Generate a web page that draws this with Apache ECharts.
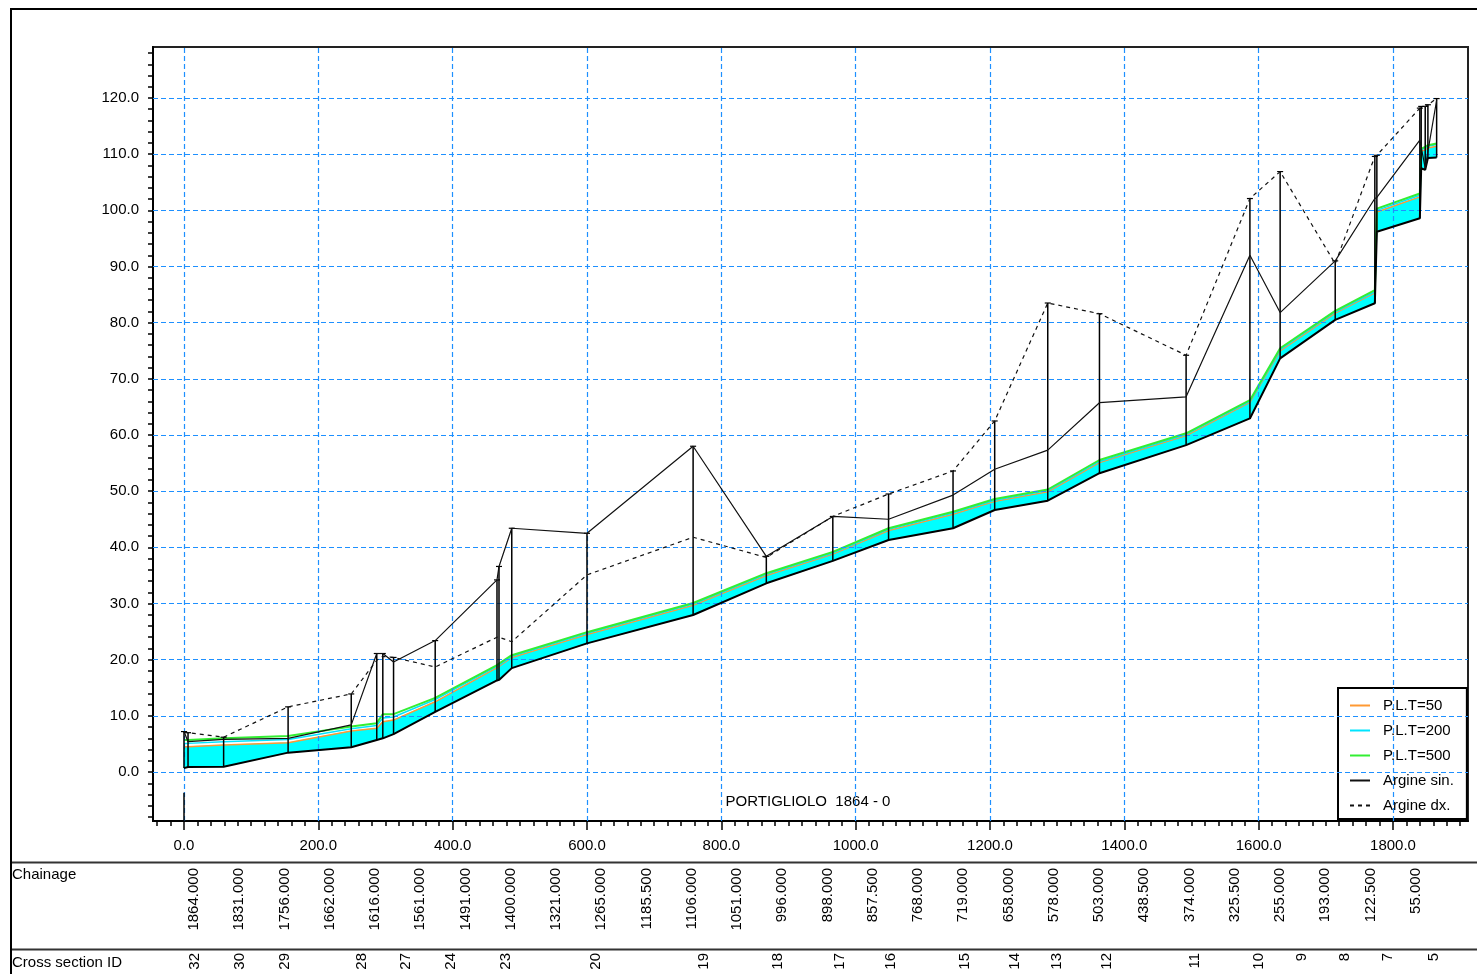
<!DOCTYPE html>
<html>
<head>
<meta charset="utf-8">
<title>PORTIGLIOLO 1864 - 0</title>
<script src="https://cdn.jsdelivr.net/npm/echarts@6/dist/echarts.min.js"></script>
<style>
    html, body { margin: 0; padding: 0; background: #fff; }
    #main { width: 1477px; height: 974px; }
</style>
</head>
<body>
<div id="main"></div>
<script>
// distanza progressiva delle sezioni (m)
var dist = [0, 6, 59, 155, 249, 287, 296, 312, 374, 466, 469, 488, 600, 758, 867, 966,
    1049, 1145, 1207, 1286, 1363, 1492, 1587, 1632, 1714, 1773, 1776, 1840, 1842, 1848, 1852, 1865];
// quota fondo alveo
var bed = [0.7, 0.9, 0.95, 3.45, 4.4, 5.7, 6.0, 6.75, 10.7, 16.3, 16.4, 18.5, 22.9, 27.95, 33.6, 37.6,
    41.3, 43.4, 46.65, 48.3, 53.2, 58.2, 62.95, 73.65, 80.5, 83.45, 96.2, 98.6, 107.5, 107.2, 109.3, 109.4];
// pelo libero per i tre tempi di ritorno
var wl50 = [4.5, 4.5, 4.8, 5.2, 7.3, 7.8, 8.95, 9.25, 12.5, 18.6, 18.8, 20.4, 24.5, 29.7, 35.0, 38.8,
    43.0, 45.9, 48.2, 49.9, 55.1, 59.9, 65.8, 75.0, 81.7, 85.3, 99.7, 102.4, 110.5, 110.8, 111.1, 111.4];
var wl200 = [5.1, 5.1, 5.4, 5.8, 7.7, 8.3, 9.6, 9.8, 12.9, 18.8, 19.0, 20.6, 24.7, 29.9, 35.2, 39.0,
    43.2, 46.1, 48.4, 50.1, 55.3, 60.1, 66.0, 75.2, 81.9, 85.5, 100.0, 102.7, 110.8, 111.1, 111.4, 111.7];
var wl500 = [5.7, 5.7, 6.0, 6.4, 8.1, 8.7, 10.3, 10.3, 13.2, 19.05, 19.3, 20.8, 24.9, 30.1, 35.4, 39.2,
    43.4, 46.35, 48.6, 50.3, 55.55, 60.3, 66.2, 75.45, 82.1, 85.8, 100.3, 103.0, 111.0, 111.3, 111.6, 111.9];
// argini
var argineSin = [7.2, 5.4, 5.8, 6.0, 8.4, 21.1, 21.1, 19.6, 23.4, 34.2, 36.6, 43.4, 42.5, 58.0, 38.4, 45.5,
    45.0, 49.3, 53.9, 57.3, 65.75, 66.8, 92.0, 81.8, 91.0, 102.1, 102.3, 112.5, 112.6, 107.5, 110.5, 119.6];
var argineDx = [7.2, 7.0, 6.2, 11.6, 13.9, 19.9, 20.6, 20.4, 18.7, 24.0, 24.0, 23.2, 35.1, 41.8, 38.2, 45.5,
    49.5, 53.6, 62.5, 83.5, 81.6, 74.2, 102.1, 106.9, 90.5, 109.6, 109.8, 118.2, 118.5, 118.5, 118.8, 119.9];
// tratto sotto lo zero all'inizio
var datumStem = [0, -8.7, -3.7];

// tabella sotto il grafico
var chainage = ['1864.000', '1831.000', '1756.000', '1662.000', '1616.000', '1561.000', '1491.000',
    '1400.000', '1321.000', '1265.000', '1185.500', '1106.000', '1051.000', '996.000', '898.000',
    '857.500', '768.000', '719.000', '658.000', '578.000', '503.000', '438.500', '374.000',
    '325.500', '255.000', '193.000', '122.500', '55.000'];
var sectionId = ['32', '30', '29', '28', '27', '24', '23', '20', '19', '18', '17', '16', '15', '14',
    '13', '12', '11', '10', '9', '8', '7', '5'];
var sectionIdDist = [16, 83, 150, 265, 330, 398, 479, 613, 774, 884, 977, 1053, 1163, 1237,
    1300, 1374, 1505, 1600, 1664, 1729, 1793, 1861];

var xTicks = [0, 200, 400, 600, 800, 1000, 1200, 1400, 1600, 1800];
var yTicks = [0, 10, 20, 30, 40, 50, 60, 70, 80, 90, 100, 110, 120];

var X_MIN = -46.15, X_MAX = 1911.7, Y_MIN = -8.72, Y_MAX = 129.08;
var FONT = '"Liberation Sans", Arial, sans-serif';

var minorX = [];
for (var v = -40; v <= 1900; v += 20) minorX.push(v);
var minorY = [];
for (var w = -8; w <= 128; w += 2) minorY.push(w);

function pairs(arr) {
    return dist.map(function (d, i) { return [d, arr[i]]; });
}

// area bagnata tra fondo e pelo libero, un trapezio per tratto
function renderWater(params, api) {
    var i = params.dataIndex;
    if (i >= dist.length - 1) return;
    var pts = [
        api.coord([dist[i], bed[i]]),
        api.coord([dist[i + 1], bed[i + 1]]),
        api.coord([dist[i + 1], wl50[i + 1]]),
        api.coord([dist[i], wl50[i]])
    ];
    return {
        type: 'polygon',
        shape: {points: pts},
        style: {fill: '#00ffff', stroke: '#00ffff', lineWidth: 0.6}
    };
}

// linee verticali delle sezioni
function renderStem(params, api) {
    var p0 = api.coord([api.value(0), api.value(1)]);
    var p1 = api.coord([api.value(0), api.value(2)]);
    var children = [{
        type: 'line',
        shape: {x1: p0[0], y1: p0[1], x2: p1[0], y2: p1[1]},
        style: {stroke: '#000', lineWidth: 1.5}
    }];
    if (api.value(3)) {
        children.push({
            type: 'line',
            shape: {x1: p1[0] - 3, y1: p1[1], x2: p1[0] + 3, y2: p1[1]},
            style: {stroke: '#000', lineWidth: 1.2}
        });
    }
    return {type: 'group', children: children};
}

var stems = dist.map(function (d, i) {
    return [d, bed[i], Math.max(argineSin[i], argineDx[i]), 1];
});
stems.push([datumStem[0], datumStem[1], datumStem[2], 0]);

var gridMarks = xTicks.map(function (x) { return {xAxis: x}; })
    .concat(yTicks.map(function (y) { return {yAxis: y}; }));

var myChart = echarts.init(document.getElementById('main'));
myChart.setOption({
    animation: false,
    backgroundColor: '#fff',
    textStyle: {fontFamily: FONT},
    grid: [
        {left: 153, top: 47, width: 1315, height: 774, show: true, borderColor: '#222', borderWidth: 2},
        {left: 171.4, top: 850, width: 1267, height: 14},
        {left: 153, top: 940, width: 1315, height: 9}
    ],
    xAxis: [
        {
            gridIndex: 0, type: 'value', min: X_MIN, max: X_MAX, position: 'bottom',
            axisLine: {onZero: false, lineStyle: {color: '#000', width: 2}},
            axisTick: {customValues: minorX, length: 5, lineStyle: {color: '#000', width: 1.5}},
            axisLabel: {
                customValues: xTicks, margin: 17, fontSize: 15, color: '#000', fontFamily: FONT,
                formatter: function (val) { return val.toFixed(1); }
            },
            splitLine: {show: false}
        },
        {
            gridIndex: 0, type: 'value', min: X_MIN, max: X_MAX, position: 'bottom',
            axisLine: {show: false, onZero: false},
            axisTick: {customValues: xTicks, length: 9, lineStyle: {color: '#000', width: 1.5}},
            axisLabel: {show: false},
            splitLine: {show: false}
        },
        {
            gridIndex: 1, type: 'category', data: chainage, position: 'bottom',
            axisLine: {show: false, onZero: false}, axisTick: {show: false},
            axisLabel: {rotate: 90, interval: 0, margin: 4, fontSize: 15, color: '#000', fontFamily: FONT}
        },
        {
            gridIndex: 2, type: 'value', min: X_MIN, max: X_MAX, position: 'bottom',
            axisLine: {show: false, onZero: false}, axisTick: {show: false}, splitLine: {show: false},
            axisLabel: {
                customValues: sectionIdDist, rotate: 90, margin: 4, fontSize: 15, color: '#000', fontFamily: FONT,
                formatter: function (val) { return sectionId[sectionIdDist.indexOf(val)]; }
            }
        }
    ],
    yAxis: [
        {
            gridIndex: 0, type: 'value', min: Y_MIN, max: Y_MAX, position: 'left',
            axisLine: {show: true, onZero: false, lineStyle: {color: '#000', width: 2}},
            axisTick: {show: true, customValues: minorY, length: 5, lineStyle: {color: '#000', width: 1.5}},
            axisLabel: {
                customValues: yTicks, margin: 14, fontSize: 15, color: '#000', fontFamily: FONT,
                formatter: function (val) { return val.toFixed(1); }
            },
            splitLine: {show: false}
        },
        {gridIndex: 1, type: 'value', show: false},
        {gridIndex: 2, type: 'value', show: false}
    ],
    legend: {
        data: ['P.L.T=50', 'P.L.T=200', 'P.L.T=500', 'Argine sin.', 'Argine dx.'],
        orient: 'vertical',
        left: 1338, top: 688,
        padding: [10, 13, 6, 11],
        itemWidth: 20, itemHeight: 14, itemGap: 10,
        backgroundColor: '#fff',
        borderColor: '#000', borderWidth: 2, borderRadius: 0,
        selectedMode: false,
        itemStyle: {opacity: 0},
        textStyle: {fontSize: 15, color: '#000', fontFamily: FONT, padding: [0, 0, 0, 8]}
    },
    graphic: [
        {type: 'rect', shape: {x: 11, y: 9, width: 1500, height: 1000}, style: {fill: 'none', stroke: '#000', lineWidth: 2}, z: 100},
        {type: 'line', shape: {x1: 11, y1: 862.5, x2: 1477, y2: 862.5}, style: {stroke: '#333', lineWidth: 2}},
        {type: 'line', shape: {x1: 11, y1: 949.5, x2: 1477, y2: 949.5}, style: {stroke: '#333', lineWidth: 2}},
        {type: 'text', x: 12, y: 867, style: {text: 'Chainage', font: '15px ' + FONT, fill: '#000'}},
        {type: 'text', x: 12, y: 955, style: {text: 'Cross section ID', font: '15px ' + FONT, fill: '#000'}},
        {type: 'text', x: 808, y: 802, style: {text: 'PORTIGLIOLO  1864 - 0', font: '15px ' + FONT, fill: '#000', textAlign: 'center', textVerticalAlign: 'middle'}}
    ],
    series: [
        {   // griglia tratteggiata
            type: 'line', data: [], silent: true, z: 0,
            markLine: {
                silent: true, symbol: ['none', 'none'], label: {show: false}, animation: false,
                emphasis: {disabled: true},
                lineStyle: {color: '#1e90ff', type: [5, 3], width: 1.2},
                data: gridMarks
            }
        },
        {
            name: 'area', type: 'custom', renderItem: renderWater, z: 1, silent: true,
            encode: {x: 0, y: [1, 2]},
            data: dist.map(function (d, i) { return [d, bed[i], wl50[i]]; })
        },
        {
            name: 'P.L.T=50', type: 'line', data: pairs(wl50), symbol: 'none', z: 3,
            lineStyle: {color: '#ff9933', width: 1.5}, itemStyle: {color: '#ff9933'}
        },
        {
            name: 'P.L.T=200', type: 'line', data: pairs(wl200), symbol: 'none', z: 3,
            lineStyle: {color: '#00e5ff', width: 1.5}, itemStyle: {color: '#00e5ff'}
        },
        {
            name: 'P.L.T=500', type: 'line', data: pairs(wl500), symbol: 'none', z: 4,
            lineStyle: {color: '#33ee33', width: 2}, itemStyle: {color: '#33ee33'}
        },
        {
            name: 'fondo', type: 'line', data: pairs(bed), symbol: 'none', z: 5,
            lineStyle: {color: '#000', width: 2}
        },
        {
            name: 'Argine sin.', type: 'line', data: pairs(argineSin), symbol: 'none', z: 6,
            lineStyle: {color: '#111', width: 1.2}, itemStyle: {color: '#111'}
        },
        {
            name: 'Argine dx.', type: 'line', data: pairs(argineDx), symbol: 'none', z: 6,
            lineStyle: {color: '#111', width: 1.2, type: [4, 4]}, itemStyle: {color: '#111'}
        },
        {
            name: 'sezioni', type: 'custom', renderItem: renderStem, z: 6, silent: true,
            encode: {x: 0, y: [1, 2]},
            data: stems
        }
    ]
});
</script>
</body>
</html>
